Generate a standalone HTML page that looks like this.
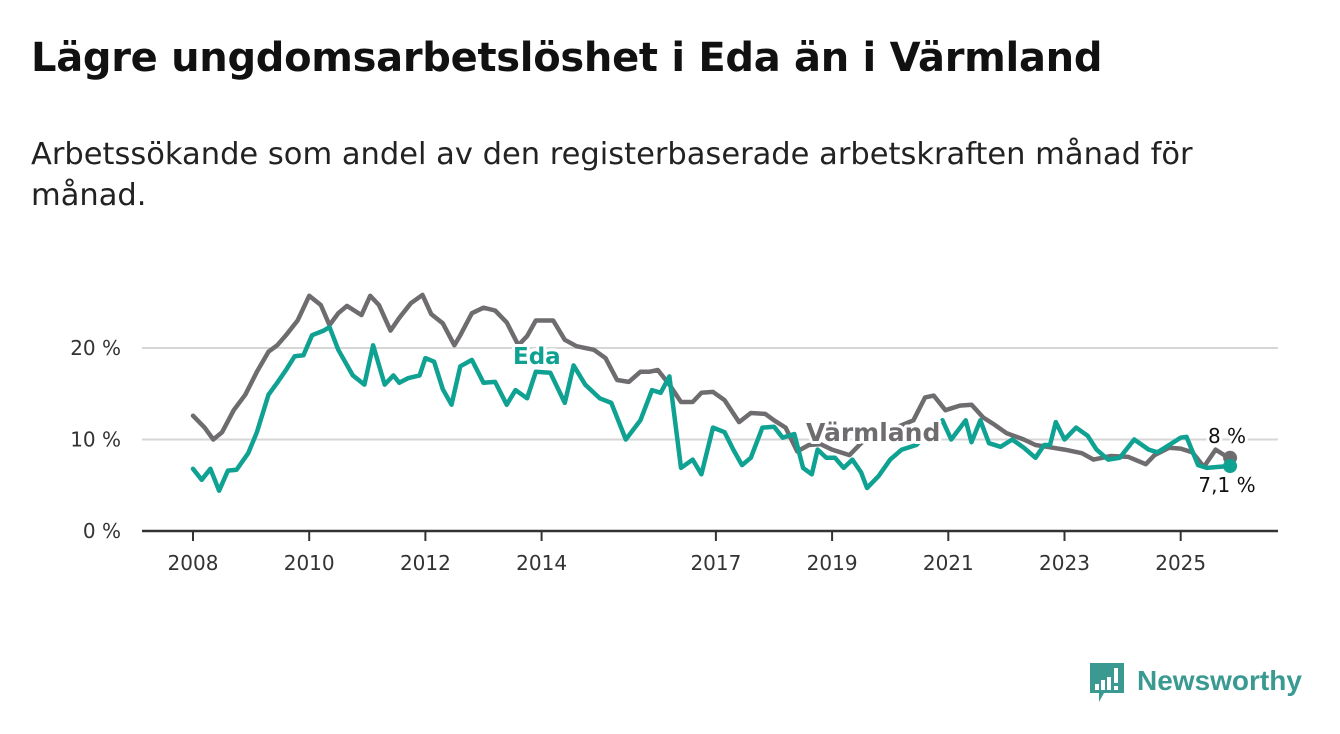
<!DOCTYPE html>
<html><head><meta charset="utf-8">
<style>
body{margin:0;background:#fff;width:1340px;height:734px;overflow:hidden;font-family:"DejaVu Sans","Liberation Sans",sans-serif}
#title{position:absolute;left:31px;top:35px;font-size:40px;font-weight:bold;color:#111;margin:0;white-space:nowrap;letter-spacing:-0.3px}
#sub{position:absolute;left:31px;top:134px;font-size:30.5px;color:#222;line-height:41px;width:1290px}
svg{position:absolute;left:0;top:0}
text{font-family:"DejaVu Sans","Liberation Sans",sans-serif}
</style></head><body>
<h1 id="title">Lägre ungdomsarbetslöshet i Eda än i Värmland</h1>
<div id="sub">Arbetssökande som andel av den registerbaserade arbetskraften månad för<br>månad.</div>
<svg id="chart" width="1340" height="734"></svg>
<script>
const yTicks=[0,10,20];
const yTickLabels=["0 %","10 %","20 %"];
const xTicks=[2008,2010,2012,2014,2017,2019,2021,2023,2025];
const varmDates=[2008.0,2008.2,2008.35,2008.5,2008.7,2008.9,2009.1,2009.3,2009.45,2009.6,2009.8,2010.0,2010.2,2010.35,2010.5,2010.65,2010.9,2011.05,2011.2,2011.4,2011.55,2011.75,2011.95,2012.1,2012.3,2012.5,2012.6,2012.8,2013.0,2013.2,2013.4,2013.6,2013.75,2013.9,2014.2,2014.4,2014.6,2014.9,2015.1,2015.3,2015.5,2015.7,2015.85,2016.0,2016.2,2016.4,2016.6,2016.75,2016.95,2017.15,2017.4,2017.6,2017.85,2018.0,2018.2,2018.4,2018.6,2018.8,2019.0,2019.3,2019.5,2019.8,2020.1,2020.4,2020.6,2020.75,2020.95,2021.2,2021.4,2021.6,2021.8,2022.0,2022.3,2022.5,2022.7,2023.0,2023.3,2023.5,2023.8,2024.1,2024.4,2024.55,2024.8,2025.0,2025.2,2025.4,2025.6,2025.75,2025.85];
const varmValues=[12.6,11.3,10.0,10.8,13.2,14.9,17.4,19.6,20.3,21.4,23.0,25.7,24.7,22.5,23.8,24.6,23.6,25.7,24.7,21.9,23.3,24.9,25.8,23.7,22.7,20.3,21.4,23.8,24.4,24.1,22.8,20.3,21.3,23.0,23.0,20.9,20.2,19.8,18.9,16.5,16.3,17.4,17.4,17.6,16.0,14.1,14.1,15.1,15.2,14.3,11.9,12.9,12.8,12.1,11.3,8.7,9.4,9.5,8.9,8.3,9.6,11.0,11.3,12.1,14.6,14.8,13.2,13.7,13.8,12.4,11.6,10.7,10.0,9.4,9.2,8.9,8.5,7.8,8.2,8.1,7.3,8.3,9.1,9.0,8.6,7.0,8.9,8.3,8.0];
const edaDates=[2008.0,2008.15,2008.3,2008.45,2008.6,2008.75,2008.95,2009.1,2009.3,2009.45,2009.6,2009.75,2009.9,2010.05,2010.25,2010.35,2010.5,2010.75,2010.95,2011.1,2011.3,2011.45,2011.55,2011.7,2011.9,2012.0,2012.15,2012.3,2012.45,2012.6,2012.8,2013.0,2013.2,2013.4,2013.55,2013.75,2013.9,2014.15,2014.4,2014.55,2014.75,2015.0,2015.2,2015.45,2015.7,2015.9,2016.05,2016.2,2016.4,2016.6,2016.75,2016.95,2017.15,2017.3,2017.45,2017.6,2017.8,2018.0,2018.15,2018.35,2018.5,2018.65,2018.75,2018.9,2019.05,2019.2,2019.35,2019.5,2019.6,2019.8,2020.0,2020.2,2020.45,2020.7,2020.9,2021.05,2021.3,2021.4,2021.55,2021.7,2021.9,2022.1,2022.3,2022.5,2022.65,2022.75,2022.85,2023.0,2023.2,2023.4,2023.55,2023.75,2023.95,2024.2,2024.45,2024.6,2024.8,2025.0,2025.1,2025.3,2025.45,2025.65,2025.85];
const edaValues=[6.8,5.6,6.8,4.4,6.6,6.7,8.5,10.8,14.9,16.2,17.6,19.1,19.2,21.4,21.9,22.3,19.8,17.0,16.0,20.3,16.0,17.0,16.2,16.7,17.0,18.9,18.5,15.5,13.8,18.0,18.7,16.2,16.3,13.8,15.4,14.5,17.4,17.3,14.0,18.1,16.0,14.5,14.0,10.0,12.1,15.4,15.1,16.9,6.9,7.8,6.2,11.3,10.8,8.9,7.2,8.0,11.3,11.4,10.2,10.6,6.9,6.2,8.9,8.0,8.0,6.9,7.8,6.4,4.7,6.0,7.8,8.9,9.4,11.0,12.1,10.0,12.1,9.7,12.1,9.6,9.2,10.0,9.1,8.0,9.4,9.4,11.9,10.0,11.3,10.4,8.9,7.8,8.0,10.0,8.9,8.6,9.4,10.2,10.3,7.2,6.9,7.0,7.1];

const NS='http://www.w3.org/2000/svg';
const svg=document.getElementById('chart');
const X=d=>193+(d-2008)*58.1;
const Y=v=>531-v*9.15;
function mk(t,a){const e=document.createElementNS(NS,t);for(const k in a)e.setAttribute(k,a[k]);svg.appendChild(e);return e;}
yTicks.forEach((v,i)=>{
  if(v>0){const g=mk('line',{x1:142,x2:1278,y1:Y(v),y2:Y(v),stroke:'#d6d6d6','stroke-width':2});
  
  }
  const t=mk('text',{x:121,y:Y(v)+7,'text-anchor':'end','font-size':20,fill:'#333'});
  t.textContent=yTickLabels[i];
  
  
});
const ax=mk('line',{x1:142,x2:1278,y1:531,y2:531,stroke:'#333','stroke-width':2.5});


xTicks.forEach(y=>{
  const l=mk('line',{x1:X(y),x2:X(y),y1:531,y2:541,stroke:'#333','stroke-width':2});
  
  
  const t=mk('text',{x:X(y),y:570,'text-anchor':'middle','font-size':20,fill:'#333'});
  t.textContent=y;
  
  
});
function line(d,v,c,name){
  const p=mk('path',{d:d.map((x,i)=>(i?'L':'M')+X(x).toFixed(1)+','+Y(v[i]).toFixed(1)).join(''),fill:'none',stroke:c,'stroke-width':4.5,'stroke-linejoin':'round','stroke-linecap':'round'});
  
  
  const n=d.length-1;
  const m=mk('circle',{cx:X(d[n]),cy:Y(v[n]),r:7,fill:c});
  
  
}
line(varmDates,varmValues,'#6f6c70','varmland-line');
line(edaDates,edaValues,'#0fa191','eda-line');
function lab(x,y,s,txt,c,w,name,anchor){
  const t=mk('text',{x:x,y:y,'font-size':s,'font-weight':w,fill:c,stroke:'#fff','stroke-width':6,'paint-order':'stroke','stroke-linejoin':'round','text-anchor':anchor||'start'});
  t.textContent=txt;
  
  
}
lab(513,364,23,'Eda','#0fa191','bold','eda-label');
lab(806,441,25,'Värmland','#6f6c70','bold','varmland-label');
lab(1227,443,20,'8 %','#111','normal','varmland-end-value','middle');
lab(1227,492,20,'7,1 %','#111','normal','eda-end-value','middle');
</script>
<svg width="1340" height="734" style="pointer-events:none">
<path d="M1090 663h34v30h-20l-5 9v-9h-9z" fill="#3a9a92"/>
<rect x="1095" y="684" width="4" height="6" fill="#fff"/><rect x="1101" y="680" width="4" height="10" fill="#fff"/><rect x="1107" y="677" width="4" height="13" fill="#fff"/><rect x="1114" y="668" width="4" height="15" fill="#fff"/><rect x="1114" y="686" width="4" height="4" fill="#fff"/>
<text x="1137" y="690" font-size="28" font-weight="bold" fill="#3a9a92" style="font-family:'Liberation Sans',sans-serif">Newsworthy</text>
</svg>
</body></html>
